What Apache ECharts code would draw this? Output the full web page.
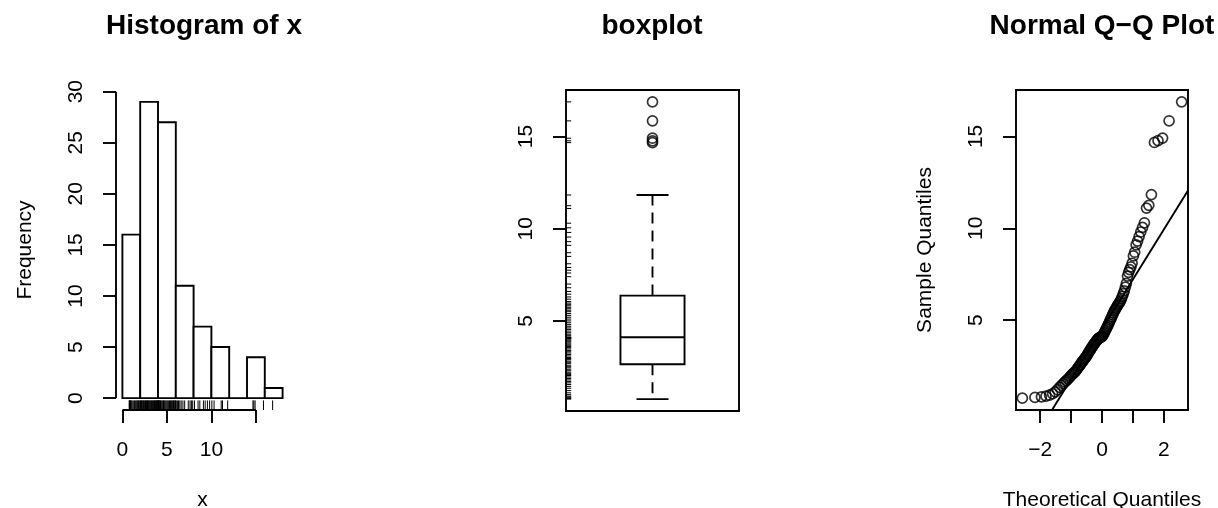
<!DOCTYPE html>
<html>
<head>
<meta charset="utf-8">
<script src="https://cdn.jsdelivr.net/npm/echarts@6/dist/echarts.min.js"></script>
<style>
  html, body { margin: 0; padding: 0; background: #fff; }
  #chart { width: 1218px; height: 508px; }
</style>
</head>
<body>
<div id="chart"></div>
<script>
const sample = [
  0.76, 0.80, 0.83, 0.87, 0.92, 1.00, 1.10, 1.22, 1.35, 1.45, 1.55, 1.64, 1.72, 1.80, 1.88, 1.96,
  2.04, 2.10, 2.16, 2.22, 2.30, 2.38, 2.46, 2.54, 2.60, 2.70, 2.76, 2.82, 2.90, 2.96, 3.02, 3.10,
  3.18, 3.26, 3.33, 3.40, 3.48, 3.55, 3.61, 3.68, 3.74, 3.80, 3.86, 3.91, 3.96,
  4.02, 4.04, 4.06, 4.08, 4.10, 4.13, 4.20, 4.28, 4.36, 4.45, 4.54, 4.62, 4.71, 4.80, 4.90, 5.00,
  5.10, 5.20, 5.30, 5.40, 5.50, 5.58, 5.66, 5.74, 5.82, 5.90, 5.97,
  6.05, 6.18, 6.30, 6.45, 6.60, 6.80, 7.00, 7.40, 7.60, 7.75, 7.90,
  8.10, 8.50, 8.70, 9.10, 9.30, 9.55, 9.80,
  10.05, 10.30, 11.10, 11.25, 11.83,
  14.67, 14.77, 14.91, 15.85, 16.88
];

// histogram
const binEdges = [0, 2, 4, 6, 8, 10, 12, 14, 16, 18];
const binCounts = [16, 29, 27, 11, 7, 5, 0, 4, 1];
const histXTicks = [0, 5, 10, 15];
const histXLabels = [0, 5, 10];
const histYTicks = [0, 5, 10, 15, 20, 25, 30];

// boxplot + qq
const valueTicks = [5, 10, 15];
const qqXTicks = [-2, -1, 0, 1, 2];
const qqXLabels = [-2, 0, 2];

const font = 'Liberation Sans, Arial, sans-serif';
const axisText = { fontFamily: font, fontSize: 21, color: '#000' };
const lw = 1.9;
const minus = (v) => String(v).replace('-', '\u2212');

// R-style 4% padding
const pad = (lo, hi) => [lo - 0.04 * (hi - lo), hi + 0.04 * (hi - lo)];

function qnorm(p) {
  const a = [-3.969683028665376e+01, 2.209460984245205e+02, -2.759285104469687e+02, 1.383577518672690e+02, -3.066479806614716e+01, 2.506628277459239e+00];
  const b = [-5.447609879822406e+01, 1.615858368580409e+02, -1.556989798598866e+02, 6.680131188771972e+01, -1.328068155288572e+01];
  const c = [-7.784894002430293e-03, -3.223964580411365e-01, -2.400758277161838e+00, -2.549732539343734e+00, 4.374664141464968e+00, 2.938163982698783e+00];
  const d = [7.784695709041462e-03, 3.224671290700398e-01, 2.445134137142996e+00, 3.754408661907416e+00];
  const tail = (q) => (((((c[0] * q + c[1]) * q + c[2]) * q + c[3]) * q + c[4]) * q + c[5]) /
    ((((d[0] * q + d[1]) * q + d[2]) * q + d[3]) * q + 1);
  if (p < 0.02425) return tail(Math.sqrt(-2 * Math.log(p)));
  if (p > 1 - 0.02425) return -tail(Math.sqrt(-2 * Math.log(1 - p)));
  const q = p - 0.5, r = q * q;
  return (((((a[0] * r + a[1]) * r + a[2]) * r + a[3]) * r + a[4]) * r + a[5]) * q /
    (((((b[0] * r + b[1]) * r + b[2]) * r + b[3]) * r + b[4]) * r + 1);
}

const n = sample.length;
const sorted = sample.slice().sort((p, q) => p - q);
const quant7 = (p) => {
  const h = (n - 1) * p, lo = Math.floor(h);
  return sorted[lo] + (h - lo) * (sorted[Math.min(lo + 1, n - 1)] - sorted[lo]);
};
const medianOf = (arr) => {
  const m = arr.length;
  return m % 2 ? arr[(m - 1) / 2] : (arr[m / 2 - 1] + arr[m / 2]) / 2;
};

// boxplot.stats (Tukey hinges)
const half = Math.floor((n + 1) / 2);
const hingeLo = medianOf(sorted.slice(0, n % 2 ? half : n / 2));
const hingeHi = medianOf(sorted.slice(n % 2 ? half - 1 : n / 2));
const med = medianOf(sorted);
const fence = 1.5 * (hingeHi - hingeLo);
const inside = sorted.filter((v) => v >= hingeLo - fence && v <= hingeHi + fence);
const whiskLo = inside[0], whiskHi = inside[inside.length - 1];
const outliers = sorted.filter((v) => v < whiskLo || v > whiskHi);

// qq
const qqPoints = sorted.map((v, i) => [qnorm((i + 0.5) / n), v]);
const slope = (quant7(0.75) - quant7(0.25)) / (qnorm(0.75) - qnorm(0.25));
const intercept = quant7(0.25) - slope * qnorm(0.25);

// ranges
const hx = pad(binEdges[0], binEdges[binEdges.length - 1]);
const hy = pad(0, Math.max(...binCounts));
const vy = pad(sorted[0], sorted[n - 1]);
const bx = pad(0.5, 1.5);
const qx = pad(qqPoints[0][0], qqPoints[n - 1][0]);

const tickStyle = { color: '#000', width: lw };

function xAxisOf(grid, range, ticks, labels, name) {
  return {
    type: 'value', gridIndex: grid, min: range[0], max: range[1],
    axisLine: { show: false, onZero: false }, splitLine: { show: false },
    axisTick: { show: true, length: 13, customValues: ticks, lineStyle: tickStyle },
    axisLabel: { customValues: labels, margin: 30, formatter: minus, ...axisText },
    name: name, nameLocation: 'middle', nameGap: 80, nameTextStyle: axisText
  };
}
function yAxisOf(grid, range, ticks, name) {
  return {
    type: 'value', gridIndex: grid, min: range[0], max: range[1],
    axisLine: { show: false, onZero: false }, splitLine: { show: false },
    axisTick: { show: true, length: 13, customValues: ticks, lineStyle: tickStyle },
    axisLabel: { customValues: ticks, margin: 29, rotate: 90, ...axisText },
    name: name, nameLocation: 'middle', nameGap: 80, nameTextStyle: axisText
  };
}

const gridBase = { top: 90, width: 173, height: 320, outerBoundsMode: 'none', containLabel: false };
const frame = { show: true, borderColor: '#000', borderWidth: lw, backgroundColor: 'transparent' };

const chart = echarts.init(document.getElementById('chart'));
chart.setOption({
  animation: false,
  backgroundColor: '#fff',
  grid: [
    { ...gridBase, left: 116 },
    { ...gridBase, ...frame, left: 566, height: 321 },
    { ...gridBase, ...frame, left: 1016, width: 172 }
  ],
  xAxis: [
    xAxisOf(0, hx, histXTicks, histXLabels, 'x'),
    { type: 'value', gridIndex: 1, min: bx[0], max: bx[1], show: false },
    xAxisOf(2, qx, qqXTicks, qqXLabels, 'Theoretical Quantiles')
  ],
  yAxis: [
    yAxisOf(0, hy, histYTicks, 'Frequency'),
    yAxisOf(1, vy, valueTicks, ''),
    yAxisOf(2, vy, valueTicks, 'Sample Quantiles')
  ],
  graphic: [
    { text: 'Histogram of x', x: 204 },
    { text: 'boxplot', x: 652 },
    { text: 'Normal Q\u2212Q Plot', x: 1102 }
  ].map((t) => ({
    type: 'text', x: t.x, y: 26,
    style: { text: t.text, align: 'center', verticalAlign: 'middle', fontFamily: font, fontSize: 28, fontWeight: 'bold', fill: '#000' }
  })),
  series: [
    // histogram bars
    {
      type: 'custom', xAxisIndex: 0, yAxisIndex: 0,
      data: binCounts.map((c, i) => [binEdges[i], binEdges[i + 1], c]),
      encode: { x: [0, 1], y: 2 },
      renderItem: (params, api) => {
        const p0 = api.coord([api.value(0), 0]);
        const p1 = api.coord([api.value(1), api.value(2)]);
        return {
          type: 'rect',
          shape: { x: p0[0], y: p1[1], width: p1[0] - p0[0], height: p0[1] - p1[1] },
          style: { fill: '#fff', stroke: '#000', lineWidth: lw }
        };
      }
    },
    // histogram axis lines
    {
      type: 'line', xAxisIndex: 0, yAxisIndex: 0, clip: false, showSymbol: false, silent: true,
      data: [[histXTicks[0], hy[0]], [histXTicks[histXTicks.length - 1], hy[0]]],
      lineStyle: { color: '#000', width: lw }
    },
    {
      type: 'line', xAxisIndex: 0, yAxisIndex: 0, clip: false, showSymbol: false, silent: true,
      data: [[hx[0], histYTicks[0]], [hx[0], histYTicks[histYTicks.length - 1]]],
      lineStyle: { color: '#000', width: lw }
    },
    // rug under histogram
    {
      type: 'custom', xAxisIndex: 0, yAxisIndex: 0, silent: true,
      data: sorted.map((v) => [v]),
      encode: { x: 0 },
      renderItem: (params, api) => {
        const a = api.coord([api.value(0), hy[0]]);
        const b = api.coord([api.value(0), hy[0] + 0.03 * (hy[1] - hy[0])]);
        return { type: 'line', shape: { x1: a[0], y1: a[1], x2: b[0], y2: b[1] }, style: { stroke: '#000', lineWidth: 1 } };
      }
    },
    // boxplot
    {
      type: 'custom', xAxisIndex: 1, yAxisIndex: 1, silent: true,
      data: [[1, whiskLo, hingeLo, med, hingeHi, whiskHi]],
      encode: { x: 0, y: [1, 5] },
      renderItem: (params, api) => {
        const x = api.value(0);
        const pt = (dx, v) => api.coord([x + dx, v]);
        const boxA = pt(-0.2, api.value(4)), boxB = pt(0.2, api.value(2));
        const seg = (p, q, extra) => ({
          type: 'line', shape: { x1: p[0], y1: p[1], x2: q[0], y2: q[1] },
          style: Object.assign({ stroke: '#000', lineWidth: lw }, extra || {})
        });
        return {
          type: 'group',
          children: [
            seg(pt(0, api.value(2)), pt(0, api.value(1)), { lineDash: [11, 7] }),
            seg(pt(0, api.value(4)), pt(0, api.value(5)), { lineDash: [11, 7] }),
            seg(pt(-0.1, api.value(1)), pt(0.1, api.value(1))),
            seg(pt(-0.1, api.value(5)), pt(0.1, api.value(5))),
            {
              type: 'rect',
              shape: { x: boxA[0], y: boxA[1], width: boxB[0] - boxA[0], height: boxB[1] - boxA[1] },
              style: { fill: '#fff', stroke: '#000', lineWidth: lw }
            },
            seg(pt(-0.2, api.value(3)), pt(0.2, api.value(3)), { lineWidth: 2.2 })
          ]
        };
      }
    },
    // boxplot outliers
    {
      type: 'scatter', xAxisIndex: 1, yAxisIndex: 1, symbol: 'circle', symbolSize: 10,
      data: outliers.map((v) => [1, v]),
      itemStyle: { color: 'transparent', borderColor: '#000', borderWidth: 1.7 }
    },
    // rug on the left of the boxplot
    {
      type: 'custom', xAxisIndex: 1, yAxisIndex: 1, silent: true,
      data: sorted.map((v) => [v]),
      encode: { y: 0 },
      renderItem: (params, api) => {
        const a = api.coord([bx[0], api.value(0)]);
        const b = api.coord([bx[0] + 0.03 * (bx[1] - bx[0]), api.value(0)]);
        return { type: 'line', shape: { x1: a[0], y1: a[1], x2: b[0], y2: b[1] }, style: { stroke: '#000', lineWidth: 1 } };
      }
    },
    // qq points
    {
      type: 'scatter', xAxisIndex: 2, yAxisIndex: 2, symbol: 'circle', symbolSize: 10,
      data: qqPoints,
      itemStyle: { color: 'transparent', borderColor: '#000', borderWidth: 1.7 }
    },
    // qq line
    {
      type: 'line', xAxisIndex: 2, yAxisIndex: 2, clip: true, showSymbol: false, silent: true,
      data: [[qx[0], intercept + slope * qx[0]], [qx[1], intercept + slope * qx[1]]],
      lineStyle: { color: '#000', width: lw }
    }
  ]
});
</script>
</body>
</html>
